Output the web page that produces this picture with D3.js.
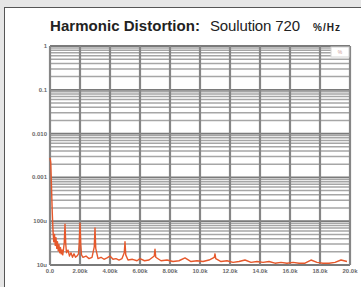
<!DOCTYPE html>
<html>
<head>
<meta charset="utf-8">
<script src="https://cdn.jsdelivr.net/npm/d3@7/dist/d3.min.js"></script>
<style>
  body { margin: 0; background: #e6e6e6; }
  svg { display: block; font-family: "Liberation Sans", Arial, sans-serif; }
</style>
</head>
<body>
<svg width="361" height="287"></svg>
<script>
// spectrum (Hz, %)
const freqs = [0, 50, 100, 150, 200, 250, 300, 350, 400, 450, 500, 550, 600, 650, 700, 750, 800, 850, 900, 950,
  1000, 1050, 1100, 1200, 1300, 1400, 1500, 1600, 1700, 1800, 1900, 1950, 2000, 2050, 2100, 2200, 2400, 2600,
  2800, 2950, 3000, 3050, 3200, 3400, 3600, 3800, 4000, 4200, 4400, 4600, 4800, 4950, 5000, 5050, 5200, 5500,
  5800, 6000, 6300, 6600, 6950, 7000, 7050, 7400, 7800, 8200, 8600, 9000, 9400, 9800, 10200, 10600, 10950, 11000,
  11050, 11400, 11800, 12200, 12600, 13000, 13400, 13800, 14200, 14600, 15000, 15400, 15800, 16200, 16600, 17000,
  17400, 17800, 18200, 18600, 19000, 19400, 19800];
const thd = [2.8e-3, 2.2e-3, 6e-4, 1.6e-4, 6e-5, 3.4e-5, 5e-5, 2.8e-5, 4.2e-5, 2.4e-5, 3.4e-5, 2.1e-5, 2.9e-5, 1.9e-5, 2.5e-5, 1.8e-5, 2.2e-5, 1.7e-5, 2.3e-5, 3.2e-5,
  8.5e-5, 3e-5, 1.9e-5, 2.2e-5, 1.6e-5, 1.9e-5, 1.5e-5, 1.8e-5, 1.5e-5, 1.6e-5, 1.8e-5, 3.2e-5, 9e-5, 3e-5, 1.7e-5, 1.5e-5, 1.6e-5, 1.4e-5,
  1.5e-5, 2.6e-5, 7e-5, 2.4e-5, 1.4e-5, 1.5e-5, 1.35e-5, 1.45e-5, 1.6e-5, 1.35e-5, 1.4e-5, 1.3e-5, 1.4e-5, 1.9e-5, 3.4e-5, 1.7e-5, 1.3e-5, 1.35e-5,
  1.25e-5, 1.4e-5, 1.25e-5, 1.3e-5, 1.6e-5, 2.3e-5, 1.5e-5, 1.25e-5, 1.3e-5, 1.2e-5, 1.25e-5, 1.45e-5, 1.2e-5, 1.25e-5, 1.2e-5, 1.3e-5, 1.5e-5, 1.8e-5,
  1.4e-5, 1.2e-5, 1.25e-5, 1.15e-5, 1.2e-5, 1.3e-5, 1.15e-5, 1.2e-5, 1.15e-5, 1.2e-5, 1.1e-5, 1.15e-5, 1.1e-5, 1.15e-5, 1.1e-5, 1.1e-5,
  1.3e-5, 1.15e-5, 1.1e-5, 1.1e-5, 1.15e-5, 1.3e-5, 1.2e-5];

const xTicks = [0, 2000, 4000, 6000, 8000, 10000, 12000, 14000, 16000, 18000, 20000];
const xLabels = ['0.0', '2.00k', '4.00k', '6.00k', '8.00k', '10.0k', '12.0k', '14.0k', '16.0k', '18.0k', '20.0k'];
const yTicks = [1, 0.1, 0.01, 0.001, 0.0001, 0.00001];
const yLabels = ['1', '0.1', '0.010', '0.001', '100u', '10u'];

const svg = d3.select('svg');

// white card
svg.append('rect')
  .attr('x', 4.5).attr('y', 7.5)
  .attr('width', 380).attr('height', 300)
  .attr('fill', '#fff')
  .attr('stroke', '#555');

const plotLeft = 50, plotRight = 350, plotTop = 46, plotBottom = 265;

const xScale = d3.scaleLinear().domain([0, 20000]).range([plotLeft, plotRight]);
const yScale = d3.scaleLog().domain([1e-5, 1]).range([plotBottom, plotTop]);

const isMajor = d => yTicks.some(t => Math.abs(t - d) / t < 1e-6);

// horizontal grid (log minors + decades)
svg.append('g')
  .selectAll('line')
  .data(yScale.ticks())
  .enter()
  .append('line')
  .attr('x1', plotLeft).attr('x2', plotRight)
  .attr('y1', d => yScale(d)).attr('y2', d => yScale(d))
  .attr('stroke', d => isMajor(d) ? '#7a7a7a' : '#a6a6a6')
  .attr('stroke-width', d => isMajor(d) ? 1.8 : 1.5);

// vertical grid
svg.append('g')
  .selectAll('line')
  .data(xTicks)
  .enter()
  .append('line')
  .attr('x1', d => xScale(d)).attr('x2', d => xScale(d))
  .attr('y1', plotTop).attr('y2', plotBottom)
  .attr('stroke', '#868686')
  .attr('stroke-width', 2.2);

// legend box
svg.append('rect')
  .attr('x', 331).attr('y', 47).attr('width', 18).attr('height', 10)
  .attr('fill', '#fff').attr('stroke', '#d4d4d4');
svg.append('text')
  .attr('x', 340).attr('y', 54)
  .attr('text-anchor', 'middle')
  .attr('font-size', 5).attr('fill', '#c99')
  .text('%');

// y labels
svg.append('g')
  .selectAll('text')
  .data(yTicks)
  .enter()
  .append('text')
  .attr('x', 47)
  .attr('y', d => yScale(d) + 2)
  .attr('text-anchor', 'end')
  .attr('font-size', 6)
  .attr('font-weight', 'bold')
  .attr('fill', '#6a6a6a')
  .text((d, i) => yLabels[i]);

// x labels
svg.append('g')
  .selectAll('text')
  .data(xTicks)
  .enter()
  .append('text')
  .attr('x', d => xScale(d))
  .attr('y', 273)
  .attr('text-anchor', 'middle')
  .attr('font-size', 6)
  .attr('font-weight', 'bold')
  .attr('fill', '#6a6a6a')
  .text((d, i) => xLabels[i]);

// spectrum
const line = d3.line()
  .x(d => xScale(d[0]))
  .y(d => yScale(d[1]));

svg.append('path')
  .datum(freqs.map((f, i) => [f, thd[i]]))
  .attr('d', line)
  .attr('fill', 'none')
  .attr('stroke', '#e6582b')
  .attr('stroke-width', 1.4)
  .attr('stroke-linejoin', 'round');

// title
const title = svg.append('text')
  .attr('x', 50).attr('y', 30.5)
  .attr('fill', '#222');
title.append('tspan')
  .attr('font-size', 15).attr('font-weight', 'bold')
  .attr('textLength', 150)
  .text('Harmonic Distortion:');
title.append('tspan')
  .attr('x', 210)
  .attr('font-size', 15)
  .attr('textLength', 90)
  .text('Soulution 720');
title.append('tspan')
  .attr('x', 313)
  .attr('font-size', 10).attr('font-weight', 'bold')
  .attr('letter-spacing', 1)
  .text('%/Hz');
</script>
</body>
</html>
